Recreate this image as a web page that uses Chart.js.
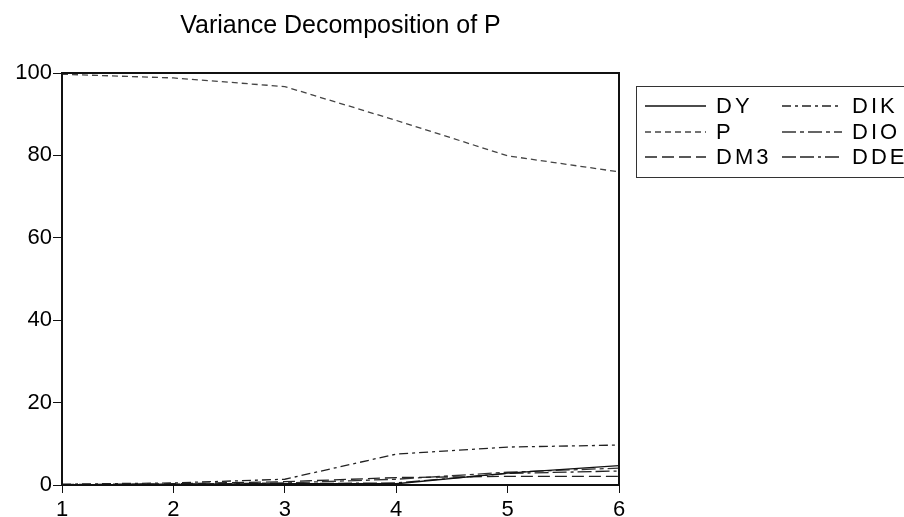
<!DOCTYPE html>
<html>
<head>
<meta charset="utf-8">
<script src="https://cdn.jsdelivr.net/npm/chart.js@4.4.1/dist/chart.umd.min.js"></script>
<style>
  html, body { margin: 0; padding: 0; background: #fff; }
  #wrap { width: 904px; height: 517px; position: relative; overflow: hidden; }
</style>
</head>
<body>
<div id="wrap"><canvas id="c" width="904" height="517"></canvas></div>
<script>
// Forecast horizons
const periods = ['1', '2', '3', '4', '5', '6'];

// Share of the forecast error variance of P explained by each shock (%)
const DY  = [0.0, 0.15, 0.3, 0.3, 2.9, 4.7];
const P   = [99.7, 98.8, 96.7, 88.5, 79.9, 76.0];
const DM3 = [0.1, 0.3, 0.8, 1.8, 2.1, 2.1];
const DIK = [0.2, 0.5, 1.4, 7.5, 9.2, 9.7];
const DIO = [0.0, 0.2, 0.5, 1.4, 3.1, 4.1];
const DDE = [0.0, 0.1, 0.3, 0.5, 2.8, 3.4];

const yTicks = [0, 20, 40, 60, 80, 100];
const chartTitle = 'Variance Decomposition of P';

const seriesNames = ['DY', 'P', 'DM3', 'DIK', 'DIO', 'DDE'];
const seriesValues = [DY, P, DM3, DIK, DIO, DDE];
const seriesDash = [[], [6, 4], [12, 5], [9, 4, 3, 4], [14, 4, 4, 4], [14, 4, 14, 4, 3, 4]];
const seriesColor = ['#111', '#444', '#222', '#222', '#333', '#222'];

const datasets = seriesNames.map((name, i) => ({
  label: name,
  data: seriesValues[i],
  borderColor: seriesColor[i],
  borderWidth: 1.3,
  borderDash: seriesDash[i],
  pointRadius: 0,
  fill: false,
  tension: 0
}));

// Title, plot frame and two-column legend box
const decorations = {
  id: 'decorations',
  afterDraw(chart) {
    const ctx = chart.ctx;
    const a = chart.chartArea;
    ctx.save();
    // frame around the plot area
    ctx.strokeStyle = '#111';
    ctx.lineWidth = 2;
    ctx.setLineDash([]);
    ctx.strokeRect(a.left, a.top, a.right - a.left, a.bottom - a.top);

    // title
    ctx.fillStyle = '#000';
    ctx.font = '25px "Liberation Sans", Arial, sans-serif';
    ctx.textAlign = 'center';
    ctx.textBaseline = 'alphabetic';
    ctx.fillText(chartTitle, (a.left + a.right) / 2, 33);

    // legend
    const bx = 636.5, by = 86.5, bw = 300, bh = 91;
    ctx.lineWidth = 1;
    ctx.strokeStyle = '#333';
    ctx.strokeRect(bx, by, bw, bh);
    const rows = [106, 132, 157];
    const cols = [{ x0: 645, x1: 706, tx: 716 }, { x0: 782, x1: 842, tx: 852 }];
    ctx.font = '22px "Liberation Sans", Arial, sans-serif';
    ctx.textAlign = 'left';
    ctx.textBaseline = 'middle';
    if ('letterSpacing' in ctx) ctx.letterSpacing = '3px';
    chart.data.datasets.forEach((ds, i) => {
      const col = cols[Math.floor(i / 3)];
      const y = rows[i % 3];
      ctx.strokeStyle = ds.borderColor;
      ctx.lineWidth = ds.borderWidth;
      ctx.setLineDash(ds.borderDash);
      ctx.beginPath();
      ctx.moveTo(col.x0, y);
      ctx.lineTo(col.x1, y);
      ctx.stroke();
      ctx.fillStyle = '#000';
      ctx.fillText(ds.label, col.tx, y + 1);
    });
    ctx.restore();
  }
};

new Chart(document.getElementById('c'), {
  type: 'line',
  data: { labels: periods, datasets },
  plugins: [decorations],
  options: {
    responsive: false,
    animation: false,
    layout: { padding: { top: 73, right: 285, left: 0, bottom: 0 } },
    plugins: { legend: { display: false }, title: { display: false }, tooltip: { enabled: false } },
    scales: {
      x: {
        offset: false,
        afterFit(scale) { scale.height = 32; },
        grid: { drawOnChartArea: false, tickLength: 8, color: '#111', lineWidth: 1 },
        border: { color: '#111', width: 2 },
        ticks: { color: '#000', padding: 4, maxRotation: 0,
                 font: { family: '"Liberation Sans", Arial, sans-serif', size: 22 } }
      },
      y: {
        min: 0, max: 100,
        afterFit(scale) { scale.width = 62; },
        afterBuildTicks(scale) { scale.ticks = yTicks.map(v => ({ value: v })); },
        grid: { drawOnChartArea: false, tickLength: 9, color: '#111', lineWidth: 1 },
        border: { color: '#111', width: 2 },
        ticks: { color: '#000', padding: 1,
                 font: { family: '"Liberation Sans", Arial, sans-serif', size: 22 } }
      }
    }
  }
});
</script>
</body>
</html>
